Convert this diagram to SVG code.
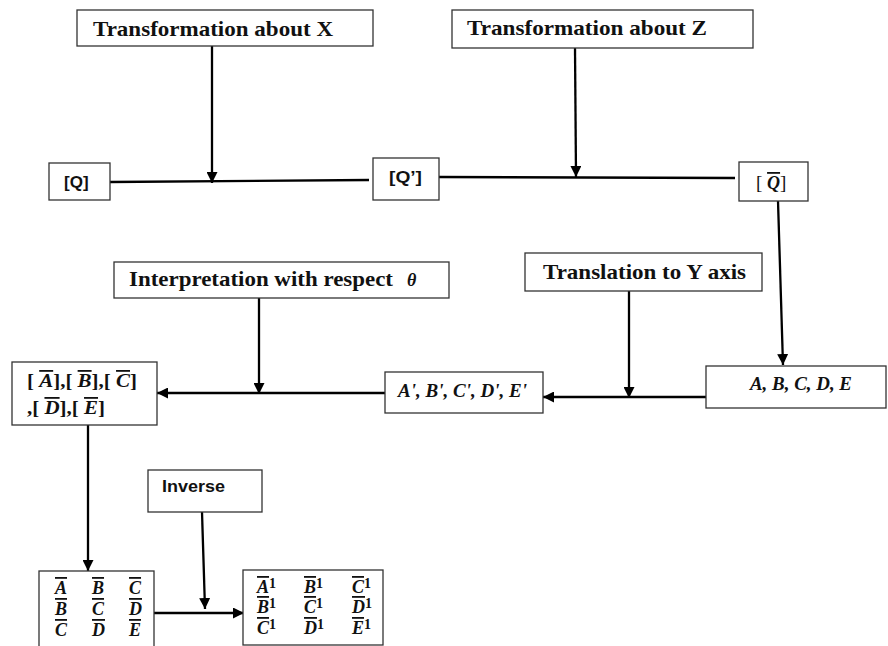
<svg xmlns="http://www.w3.org/2000/svg" width="888" height="646" viewBox="0 0 888 646">
<defs>
<marker id="ah" viewBox="0 0 10 10" markerUnits="userSpaceOnUse" markerWidth="11" markerHeight="11" refX="10" refY="5" orient="auto">
<path d="M0,0 L10,5 L0,10 z" fill="#000"/>
</marker>
</defs>
<style>
.box{fill:#fff;stroke:#333;stroke-width:1.3}
.tb{font-family:"Liberation Serif",serif;font-weight:bold;font-size:21px;fill:#111}
.ts{font-family:"Liberation Sans",Arial,sans-serif;font-weight:bold;font-size:17px;fill:#111}
.m{font-family:"Liberation Serif",serif;font-weight:bold;font-style:italic;font-size:18px;fill:#111}
.mu{font-family:"Liberation Serif",serif;font-weight:normal;font-style:normal;font-size:19px;fill:#111}
.up{font-style:normal}
.sup{font-style:normal;font-size:14px}
.ob{text-decoration:overline}
.c{fill:none;stroke:#000;stroke-width:2.3}
.ca{fill:none;stroke:#000;stroke-width:2.3;marker-end:url(#ah)}
</style>
<rect width="888" height="646" fill="#fff"/>

<g id="connectors">
<path class="ca" d="M212,46 L212,183"/>
<path class="c" d="M110,182 L369,180"/>
<path class="ca" d="M575,48 L576,177"/>
<path class="c" d="M439,177 L735,178"/>
<path class="ca" d="M778,201 L783,365"/>
<path class="ca" d="M629,291 L629,398"/>
<path class="ca" d="M706,397 L543,397"/>
<path class="ca" d="M259,298 L259,394"/>
<path class="ca" d="M385,393 L157,393"/>
<path class="ca" d="M88,425 L88,571"/>
<path class="ca" d="M202,512 L205,609"/>
<path class="ca" d="M154,613 L244,613"/>
</g>

<g id="transX">
<rect class="box" x="77" y="10" width="296" height="36"/>
<text class="tb" x="93" y="36" textLength="240" lengthAdjust="spacingAndGlyphs">Transformation about X</text>
</g>
<g id="transZ">
<rect class="box" x="452" y="10" width="301" height="38"/>
<text class="tb" x="467" y="35" textLength="240" lengthAdjust="spacingAndGlyphs">Transformation about Z</text>
</g>
<g id="Q">
<rect class="box" x="49" y="163" width="61" height="37"/>
<text class="ts" x="64" y="188">[Q]</text>
</g>
<g id="Qp">
<rect class="box" x="373" y="158" width="66" height="42"/>
<text class="ts" x="389" y="183" textLength="33" lengthAdjust="spacingAndGlyphs">[Q’]</text>
</g>
<g id="Qbar">
<rect class="box" x="739" y="162" width="69" height="39"/>
<text class="mu" x="756" y="189">[ <tspan class="m ob" font-size="19">Q</tspan>]</text>
</g>
<g id="interp">
<rect class="box" x="114" y="262" width="335" height="36"/>
<text class="tb" x="129" y="286" textLength="264" lengthAdjust="spacingAndGlyphs">Interpretation with respect</text>
<text class="m" x="407" y="286" font-size="19">θ</text>
</g>
<g id="transY">
<rect class="box" x="525" y="253" width="237" height="38"/>
<text class="tb" x="543" y="279" textLength="203" lengthAdjust="spacingAndGlyphs">Translation to Y axis</text>
</g>
<g id="ABCDE">
<rect class="box" x="706" y="366" width="180" height="42"/>
<text class="m" x="750" y="390" textLength="102" lengthAdjust="spacingAndGlyphs">A, B, C, D, E</text>
</g>
<g id="ABCDEp">
<rect class="box" x="385" y="372" width="158" height="41"/>
<text class="m" x="398" y="397" textLength="129" lengthAdjust="spacingAndGlyphs">A', B', C', D', E'</text>
</g>
<g id="bars">
<rect class="box" x="12" y="362" width="145" height="63"/>
<text class="m" x="27" y="387" font-size="19" textLength="110" lengthAdjust="spacingAndGlyphs"><tspan class="up">[ </tspan><tspan class="ob">A</tspan><tspan class="up">],[ </tspan><tspan class="ob">B</tspan><tspan class="up">],[ </tspan><tspan class="ob">C</tspan><tspan class="up">]</tspan></text>
<text class="m" x="27" y="414" font-size="19" textLength="78" lengthAdjust="spacingAndGlyphs"><tspan class="up">,[ </tspan><tspan class="ob">D</tspan><tspan class="up">],[ </tspan><tspan class="ob">E</tspan><tspan class="up">]</tspan></text>
</g>
<g id="inverse">
<rect class="box" x="148" y="470" width="114" height="42"/>
<text class="ts" x="162" y="492" textLength="63" lengthAdjust="spacingAndGlyphs">Inverse</text>
</g>
<g id="matrix">
<rect class="box" x="39" y="571" width="115" height="80"/>
<text class="m ob" x="55" y="594">A</text><text class="m ob" x="92" y="594">B</text><text class="m ob" x="129" y="594">C</text>
<text class="m ob" x="55" y="615">B</text><text class="m ob" x="92" y="615">C</text><text class="m ob" x="129" y="615">D</text>
<text class="m ob" x="55" y="636">C</text><text class="m ob" x="92" y="636">D</text><text class="m ob" x="129" y="636">E</text>
</g>
<g id="matrixInv">
<rect class="box" x="243" y="570" width="140" height="75"/>
<text class="m" x="257" y="593"><tspan class="ob">A</tspan><tspan class="sup" dy="-5">1</tspan></text>
<text class="m" x="304" y="593"><tspan class="ob">B</tspan><tspan class="sup" dy="-5">1</tspan></text>
<text class="m" x="352" y="593"><tspan class="ob">C</tspan><tspan class="sup" dy="-5">1</tspan></text>
<text class="m" x="257" y="613"><tspan class="ob">B</tspan><tspan class="sup" dy="-5">1</tspan></text>
<text class="m" x="304" y="613"><tspan class="ob">C</tspan><tspan class="sup" dy="-5">1</tspan></text>
<text class="m" x="352" y="613"><tspan class="ob">D</tspan><tspan class="sup" dy="-5">1</tspan></text>
<text class="m" x="257" y="634"><tspan class="ob">C</tspan><tspan class="sup" dy="-5">1</tspan></text>
<text class="m" x="304" y="634"><tspan class="ob">D</tspan><tspan class="sup" dy="-5">1</tspan></text>
<text class="m" x="352" y="634"><tspan class="ob">E</tspan><tspan class="sup" dy="-5">1</tspan></text>
</g>
</svg>
